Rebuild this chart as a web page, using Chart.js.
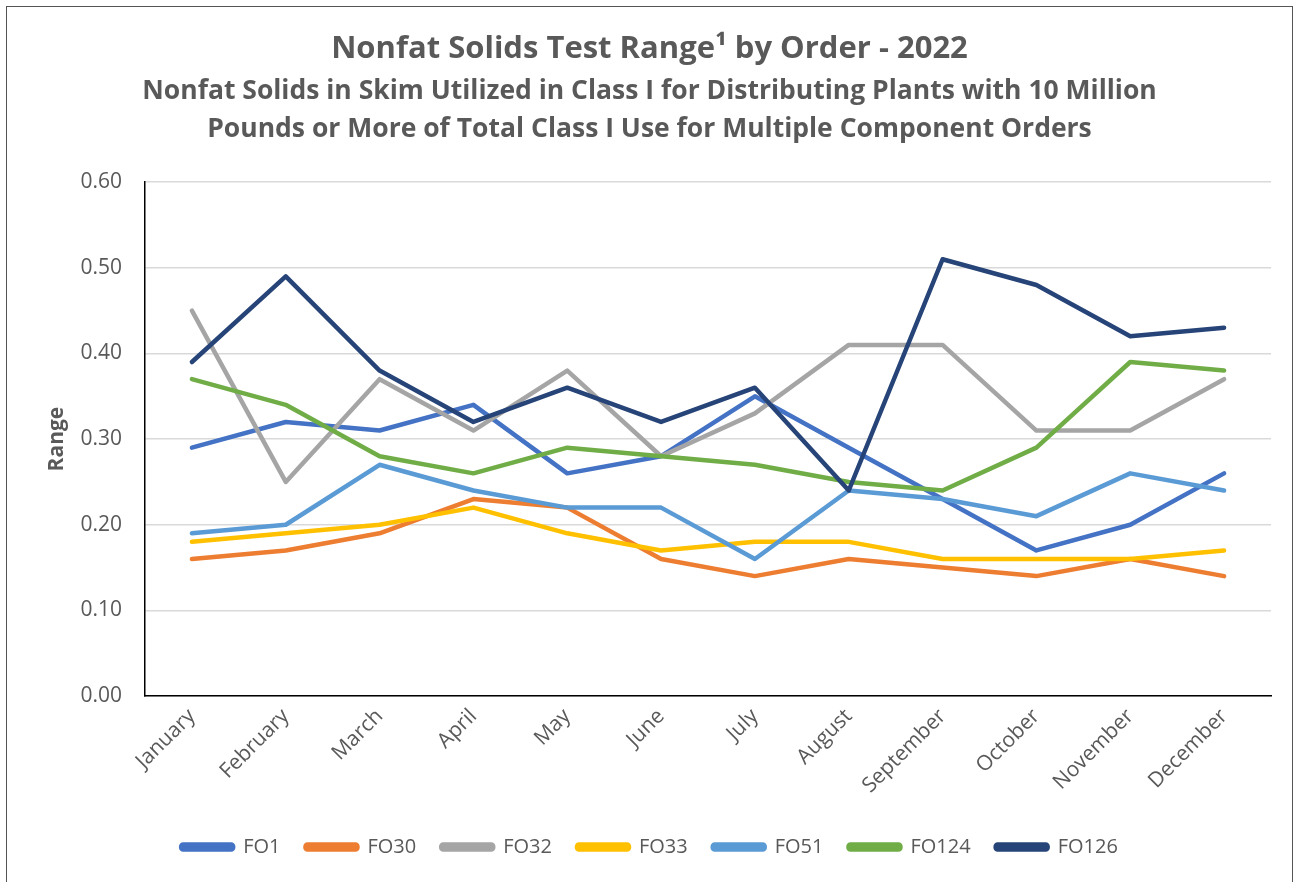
<!DOCTYPE html>
<html>
<head>
<meta charset="utf-8">
<script src="https://cdn.jsdelivr.net/npm/chart.js@4/dist/chart.umd.min.js"></script>
<style>
  body { margin: 0; background: #fff; }
  #box {
    position: absolute; left: 6px; top: 6px;
    width: 1285px; height: 880px;
    border: 1px solid #555; background: #fff;
  }
</style>
</head>
<body>
<div id="box"><canvas id="chart"></canvas></div>
<script>
// DATA
const months = ["January", "February", "March", "April", "May", "June",
  "July", "August", "September", "October", "November", "December"]

const fo1   = [0.29, 0.32, 0.31, 0.34, 0.26, 0.28, 0.35, 0.29, 0.23, 0.17, 0.20, 0.26]
const fo30  = [0.16, 0.17, 0.19, 0.23, 0.22, 0.16, 0.14, 0.16, 0.15, 0.14, 0.16, 0.14]
const fo32  = [0.45, 0.25, 0.37, 0.31, 0.38, 0.28, 0.33, 0.41, 0.41, 0.31, 0.31, 0.37]
const fo33  = [0.18, 0.19, 0.20, 0.22, 0.19, 0.17, 0.18, 0.18, 0.16, 0.16, 0.16, 0.17]
const fo51  = [0.19, 0.20, 0.27, 0.24, 0.22, 0.22, 0.16, 0.24, 0.23, 0.21, 0.26, 0.24]
const fo124 = [0.37, 0.34, 0.28, 0.26, 0.29, 0.28, 0.27, 0.25, 0.24, 0.29, 0.39, 0.38]
const fo126 = [0.39, 0.49, 0.38, 0.32, 0.36, 0.32, 0.36, 0.24, 0.51, 0.48, 0.42, 0.43]

const seriesNames = ["FO1", "FO30", "FO32", "FO33", "FO51", "FO124", "FO126"]
const seriesData = [fo1, fo30, fo32, fo33, fo51, fo124, fo126]
const seriesColors = ["#4472C4", "#ED7D31", "#A5A5A5", "#FFC000", "#5B9BD5", "#70AD47", "#264478"]

const yTicks = [0, 0.1, 0.2, 0.3, 0.4, 0.5, 0.6]

const FONT = "'Open Sans', sans-serif"
const GREY_TEXT = "#595959"

// BUILD DATASETS (later series drawn on top, like Excel)
const datasets = seriesNames.map((name, i) => ({
  label: name,
  data: seriesData[i],
  yAxisID: "y",
  borderColor: seriesColors[i],
  backgroundColor: seriesColors[i],
  borderWidth: 4.5,
  pointRadius: 0,
  pointHoverRadius: 0,
  tension: 0,
  borderCapStyle: "round",
  borderJoinStyle: "round",
  fill: false,
  order: seriesNames.length - i,
}))

const ctx = document.getElementById("chart").getContext("2d")

new Chart(ctx, {
  type: "line",
  data: { labels: months, datasets: datasets },
  options: {
    responsive: true,
    maintainAspectRatio: false,
    animation: false,
    layout: { padding: { left: 0, right: 0, top: 0, bottom: 20 } },
    plugins: {
      title: {
        display: true,
        text: "Nonfat Solids Test Range\u00B9 by Order - 2022",
        color: GREY_TEXT,
        font: { family: FONT, size: 31, weight: "bold", lineHeight: 1.2 },
        padding: { top: 24, bottom: 0 },
      },
      subtitle: {
        display: true,
        text: [
          "Nonfat Solids in Skim Utilized in Class I for Distributing Plants with 10 Million",
          "Pounds or More of Total Class I Use for Multiple Component Orders",
        ],
        color: GREY_TEXT,
        font: { family: FONT, size: 26.5, weight: "bold", lineHeight: 1.434 },
        padding: { top: 4, bottom: 34 },
      },
      legend: {
        position: "bottom",
        labels: {
          color: GREY_TEXT,
          font: { family: FONT, size: 20 },
          boxWidth: 52,
          boxHeight: 5,
          useBorderRadius: true,
          borderRadius: 2,
          padding: 25,
          sort: (a, b) => a.datasetIndex - b.datasetIndex,
        },
      },
      tooltip: { enabled: false },
    },
    scales: {
      x: {
        offset: true,
        grid: { display: false, drawTicks: false },
        border: { display: true, color: "#000", width: 1.5 },
        ticks: {
          color: GREY_TEXT,
          font: { family: FONT, size: 21 },
          minRotation: 45,
          maxRotation: 45,
          padding: 8,
        },
        afterFit: (scale) => { scale.height = 116 },
      },
      y: {
        min: 0,
        max: 0.6,
        afterBuildTicks: (scale) => { scale.ticks = yTicks.map((v) => ({ value: v })) },
        grid: { color: "#d9d9d9", lineWidth: 1.5, drawTicks: false },
        border: { display: true, color: "#000", width: 1.5 },
        ticks: {
          color: GREY_TEXT,
          font: { family: FONT, size: 21 },
          padding: 23,
          callback: (v) => v.toFixed(2),
        },
        title: {
          display: true,
          text: "Range",
          color: GREY_TEXT,
          font: { family: FONT, size: 21, weight: "bold" },
          padding: { top: 37, bottom: 0 },
        },
        afterFit: (scale) => { scale.width = 138 },
      },
      // empty right-hand spacer so the titles stay centred on the whole box
      spacer: {
        type: "linear",
        position: "right",
        grid: { display: false, drawTicks: false },
        border: { display: false },
        ticks: { display: false },
        afterFit: (scale) => { scale.width = 21 },
      },
    },
  },
})
</script>
</body>
</html>
